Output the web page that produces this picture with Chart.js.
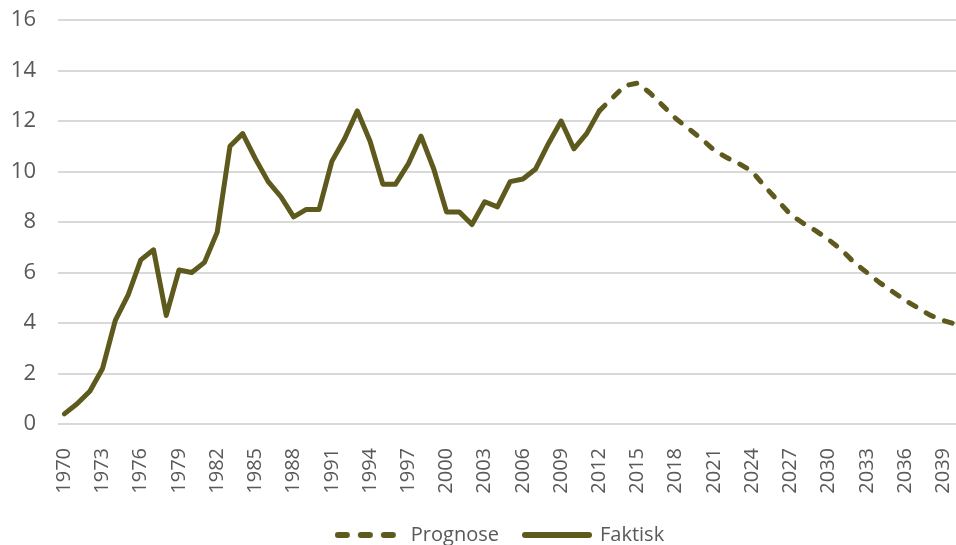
<!DOCTYPE html>
<html>
<head>
<meta charset="utf-8">
<script src="https://cdn.jsdelivr.net/npm/chart.js@4.4.1/dist/chart.umd.min.js"></script>
<style>
  html, body { margin: 0; padding: 0; background: #fff; }
  #wrap { width: 956px; height: 545px; }
</style>
</head>
<body>
<div id="wrap"><canvas id="chart"></canvas></div>
<script>
const years = [
  1970, 1971, 1972, 1973, 1974, 1975, 1976, 1977, 1978, 1979,
  1980, 1981, 1982, 1983, 1984, 1985, 1986, 1987, 1988, 1989,
  1990, 1991, 1992, 1993, 1994, 1995, 1996, 1997, 1998, 1999,
  2000, 2001, 2002, 2003, 2004, 2005, 2006, 2007, 2008, 2009,
  2010, 2011, 2012, 2013, 2014, 2015, 2016, 2017, 2018, 2019,
  2020, 2021, 2022, 2023, 2024, 2025, 2026, 2027, 2028, 2029,
  2030, 2031, 2032, 2033, 2034, 2035, 2036, 2037, 2038, 2039,
  2040
];

// actual values 1970-2012
const faktisk = [
  0.4, 0.8, 1.3, 2.2, 4.1, 5.1, 6.5, 6.9, 4.3, 6.1,
  6.0, 6.4, 7.6, 11.0, 11.5, 10.5, 9.6, 9.0, 8.2, 8.5,
  8.5, 10.4, 11.3, 12.4, 11.2, 9.5, 9.5, 10.3, 11.4, 10.1,
  8.4, 8.4, 7.9, 8.8, 8.6, 9.6, 9.7, 10.1, 11.1, 12.0,
  10.9, 11.5, 12.4
];

// forecast 2012-2040
const prognose = [
  12.4, 12.9, 13.4, 13.5, 13.1, 12.6, 12.1, 11.7, 11.3, 10.85,
  10.55, 10.3, 10.0, 9.4, 8.85, 8.3, 7.95, 7.65, 7.3, 6.9,
  6.4, 6.0, 5.6, 5.25, 4.9, 4.6, 4.3, 4.1, 3.95
];
const prognoseStart = 2012;

const tickYears = [
  1970, 1973, 1976, 1979, 1982, 1985, 1988, 1991, 1994, 1997,
  2000, 2003, 2006, 2009, 2012, 2015, 2018, 2021, 2024, 2027,
  2030, 2033, 2036, 2039
];
const yTicks = [0, 2, 4, 6, 8, 10, 12, 14, 16];

const olive = '#5e5a1e';
const textGrey = '#595959';

// little line samples for the legend (dashed / solid)
function legendSample(dash, w) {
  const c = document.createElement('canvas');
  c.width = w;
  c.height = 8;
  const g = c.getContext('2d');
  g.strokeStyle = olive;
  g.lineWidth = 6;
  g.lineCap = 'round';
  g.setLineDash(dash);
  g.beginPath();
  g.moveTo(3, 4);
  g.lineTo(w - 3, 4);
  g.stroke();
  return c;
}

// the legend sits a bit right of centre and low in the original
const legendShift = {
  id: 'legendShift',
  afterLayout(chart) {
    const l = chart.legend;
    if (!l) return;
    l.left += 16;
    l.right += 16;
    l.top += 10;
    l.bottom += 10;
    // keep the rotated year labels from being clipped
    chart.scales.x.bottom += 12;
  }
};

const faktiskPts = faktisk.map((v, i) => ({ x: years[i], y: v }));
const prognosePts = prognose.map((v, i) => ({ x: prognoseStart + i, y: v }));

const ctx = document.getElementById('chart').getContext('2d');
new Chart(ctx, {
  type: 'line',
  data: {
    datasets: [
      {
        label: 'Prognose',
        data: prognosePts,
        borderColor: olive,
        backgroundColor: olive,
        borderWidth: 5,
        borderDash: [8, 12],
        borderCapStyle: 'round',
        borderJoinStyle: 'round',
        pointRadius: 0,
        pointStyle: legendSample([9, 14], 66),
        tension: 0,
        clip: false
      },
      {
        label: 'Faktisk',
        data: faktiskPts,
        borderColor: olive,
        backgroundColor: olive,
        borderWidth: 5,
        borderCapStyle: 'round',
        borderJoinStyle: 'round',
        pointRadius: 0,
        pointStyle: legendSample([], 70),
        tension: 0,
        clip: false
      }
    ]
  },
  options: {
    responsive: true,
    maintainAspectRatio: false,
    animation: false,
    layout: { padding: { top: 20, left: 11, right: 0, bottom: 0 } },
    plugins: {
      legend: {
        position: 'bottom',
        labels: {
          color: textGrey,
          font: { family: 'Open Sans', size: 20 },
          usePointStyle: true,
          pointStyleWidth: 66,
          padding: 25
        }
      },
      tooltip: { enabled: false }
    },
    scales: {
      x: {
        type: 'linear',
        min: 1969.5,
        max: 2040,
        afterBuildTicks: scale => {
          scale.ticks = tickYears.map(v => ({ value: v }));
        },
        afterFit: scale => {
          scale.paddingLeft = 0;
          scale.paddingRight = 0;
          scale.height = 545 - scale.chart.legend.height - 424;
        },
        grid: { display: false },
        border: { display: false },
        ticks: {
          autoSkip: false,
          minRotation: 90,
          maxRotation: 90,
          padding: 16,
          color: textGrey,
          font: { family: 'Open Sans', size: 20 },
          callback: v => String(v)
        }
      },
      y: {
        min: 0,
        max: 16,
        afterBuildTicks: scale => {
          scale.ticks = yTicks.map(v => ({ value: v }));
        },
        afterFit: scale => {
          scale.width = 47;
          scale.paddingTop = 0;
          scale.paddingBottom = 0;
        },
        grid: { color: '#d9d9d9', lineWidth: 2, drawTicks: false },
        border: { display: false },
        ticks: {
          padding: 22,
          color: textGrey,
          font: { family: 'Open Sans', size: 22 }
        }
      }
    }
  },
  plugins: [legendShift]
});
</script>
</body>
</html>
